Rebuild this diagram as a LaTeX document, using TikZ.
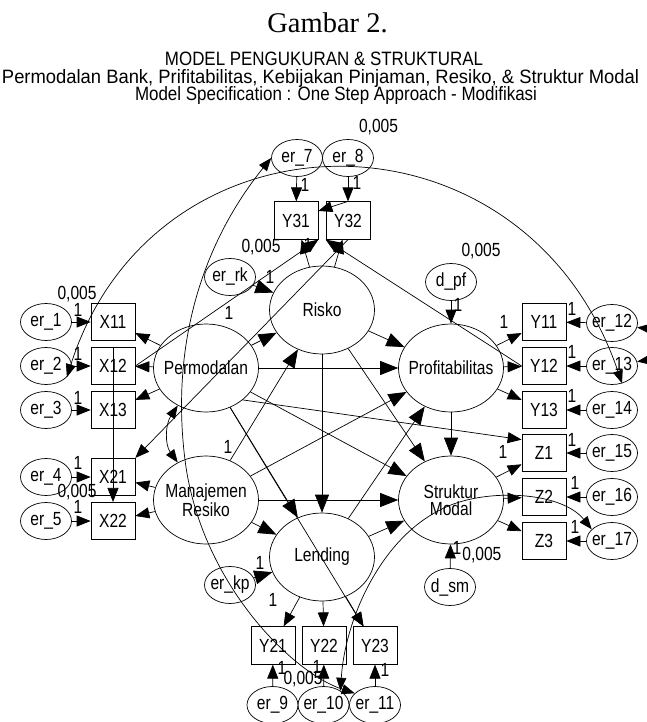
\documentclass[tikz,border=0pt]{standalone}
\usepackage{fontspec}
\setmainfont{Liberation Sans}
\newfontfamily\diagfont{Liberation Sans}[FakeStretch=0.82]
\newfontfamily\headfont{Liberation Sans}
\newfontfamily\serifhead{Liberation Serif}
\usetikzlibrary{shapes.geometric,arrows.meta,calc}

\newcommand\lblsize{\diagfont\fontsize{19}{21}\selectfont}
\newcommand\twolinesize{\diagfont\fontsize{19}{17.5}\selectfont}

\begin{document}
\begin{tikzpicture}[x=1pt,y=-1pt,
  every node/.style={font=\lblsize},
  obs/.style={draw,rectangle,minimum width=44pt,minimum height=37.5pt,inner sep=0pt},
  errell/.style={draw,ellipse,minimum width=51pt,minimum height=37pt,inner sep=0pt},
  latent/.style={draw,ellipse,minimum width=105pt,minimum height=88pt,inner sep=0pt},
  num/.style={inner sep=0pt},
  reg/.style={draw,line width=0.7pt,-{Triangle[length=14pt,width=11pt]}},
  bigreg/.style={draw,line width=0.7pt,-{Triangle[length=18pt,width=14pt]}},
  cov/.style={draw,line width=0.7pt,{Triangle[length=13pt,width=10pt]}-{Triangle[length=13pt,width=10pt]}},
  line width=0.7pt]
\useasboundingbox (0,0) rectangle (646,722);

% ---------- headings ----------
\node[font=\serifhead\fontsize{28.5}{30}\selectfont,anchor=base,inner sep=0pt] (title) at (327.5,32.5) {Gambar 2.};
\node[anchor=base,inner sep=0pt] (head1) at (324,66) {\resizebox{318pt}{13.5pt}{\headfont MODEL PENGUKURAN \& STRUKTURAL}};
\node[anchor=base,inner sep=0pt] (head2) at (320.5,84) {\resizebox{637pt}{14pt}{\headfont Permodalan Bank, Prifitabilitas, Kebijakan Pinjaman, Resiko, \& Struktur Modal}};
\node[anchor=base,inner sep=0pt] (head3) at (336,101) {\resizebox{402pt}{14pt}{\headfont Model Specification : One Step Approach - Modifikasi}};

% ---------- latent variables ----------
\node[latent] (R) at (322,310) {};
\node[latent] (P) at (206,368) {};
\node[latent] (Pf) at (451,368) {};
\node[latent] (M) at (206,500) {};
\node[latent] (S) at (451,500) {};
\node[latent] (L) at (322,557) {};
\node (Rt) at (R) {Risko};
\node (Pt) at (P) {Permodalan};
\node (Pft) at (Pf) {Profitabilitas};
\node[align=center,font=\twolinesize] (Mt) at (M) {Manajemen\\Resiko};
\node[align=center,font=\twolinesize] (St) at (S) {Struktur\\Modal};
\node (Lt) at (L) {Lending};

% ---------- indicators ----------
\node[obs] (X11) at (113,322) {X11};
\node[obs] (X12) at (113,366) {X12};
\node[obs] (X13) at (113,410) {X13};
\node[obs] (X21) at (113,477) {X21};
\node[obs] (X22) at (113,521) {X22};
\node[obs] (Y11) at (544,322) {Y11};
\node[obs] (Y12) at (544,366) {Y12};
\node[obs] (Y13) at (544,410) {Y13};
\node[obs] (Z1) at (544,453) {Z1};
\node[obs] (Z2) at (544,497) {Z2};
\node[obs] (Z3) at (544,541) {Z3};
\node[obs] (Y31) at (296,220.5) {Y31};
\node[obs] (Y32) at (348,220.5) {Y32};
\node[obs] (Y21) at (273,645.5) {Y21};
\node[obs] (Y22) at (324,645.5) {Y22};
\node[obs] (Y23) at (375,645.5) {Y23};

% ---------- errors and disturbances ----------
\foreach \n/\x/\y/\t in {e1/46/322/er\_1, e2/46/366/er\_2, e3/46/410/er\_3,
    e4/46/477/er\_4, e5/46/521/er\_5, e12/612/323/er\_12, e13/612/366/er\_13,
    e14/612/410/er\_14, e15/612/453/er\_15, e16/612/497/er\_16, e17/612/541/er\_17,
    e7/297/158/er\_7, e8/348/158/er\_8, e9/272.5/705/er\_9, e10/323.5/705/er\_10,
    e11/375/705/er\_11, erk/230/277/er\_rk, ekp/230/585/er\_kp,
    dpf/451/282/d\_pf, dsm/450/587/d\_sm}
{
  \node[errell] (\n) at (\x,\y) {};
  \node (\n t) at (\n) {\t};
}

% ---------- structural paths ----------
\draw[bigreg] (P) -- (R);
\draw[bigreg] (M) -- (R);
\draw[bigreg] (P) -- (Pf);
\draw[bigreg] (R) -- (Pf);
\draw[bigreg] (M) -- (Pf);
\draw[bigreg] (L) -- (Pf);
\draw[bigreg] (Pf) -- (S);
\draw[bigreg] (R) -- (S);
\draw[bigreg] (P) -- (S);
\draw[bigreg] (M) -- (S);
\draw[bigreg] (L) -- (S);
\draw[bigreg] (R) -- (L);
\draw[bigreg] (P) -- (L);
\draw[bigreg] (M) -- (L);
\draw[bigreg] (erk) -- (R);
\draw[bigreg] (ekp) -- (L);
\draw[reg] (dpf) -- (Pf);
\draw[reg] (dsm) -- (S);

% ---------- loadings ----------
\draw[reg] (P) -- (X11);
\draw[reg] (P) -- (X12);
\draw[reg] (P) -- (X13);
\draw[reg] (M) -- (X21);
\draw[reg] (M) -- (X22);
\draw[reg] (Pf) -- (Y11);
\draw[reg] (Pf) -- (Y12);
\draw[reg] (Pf) -- (Y13);
\draw[reg] (S) -- (Z1);
\draw[reg] (S) -- (Z2);
\draw[reg] (S) -- (Z3);
\draw[reg] (R) -- (Y31);
\draw[reg] (R) -- (Y32);
\draw[reg] (L) -- (Y21);
\draw[reg] (L) -- (Y22);
\draw[reg] (L) -- (Y23);

% ---------- measurement errors ----------
\foreach \e/\b in {e1/X11,e2/X12,e3/X13,e4/X21,e5/X22,e12/Y11,e13/Y12,e14/Y13,e15/Z1,e16/Z2,e17/Z3,e7/Y31,e8/Y32,e9/Y21,e10/Y22,e11/Y23}
  \draw[reg] (\e) -- (\b);

% ---------- modification paths ----------
\draw[reg] (P.-41) -- ($(Z1.north west)!0.15!(Z1.south west)$);
\draw[reg] (P) -- (Y23);
\draw[reg] (X12.east) -- (Y31.south east);
\draw[reg] (Y32.south) -- (X21.north east);
\draw[reg] (Y12.west) -- (Y32.south west);
\draw[reg] (Y32.north) -- ($(Y31.north east)!0.25!(Y31.south east)$);
\draw[reg] (X12.north) -- (X22.north);

% ---------- covariances ----------
\draw[cov] (e2.-28) .. controls (155,100) and (525,98) .. (e13.-60);
\draw[cov] (e7.west) .. controls (205,240) and (170,340) .. (185,460)
                     .. controls (200,580) and (290,672) .. (e11.150);
\draw[cov] (e17.150) .. controls (560,490) and (480,488) .. (440,510)
                     .. controls (380,540) and (345,620) .. (e10.40);
\draw[cov] (P.233) .. controls (165,425) and (165,445) .. (M.127);
\draw[cov] (e12.-10) .. controls (662,330) and (662,358) .. (e13.10);

% ---------- parameter labels ----------
\node[num,anchor=base] (v1) at (378.5,133) {0,005};
\node[num] (v2) at (261,247) {0,005};
\node[num] (v3) at (481,251) {0,005};
\node[num] (v4) at (77,294) {0,005};
\node[num] (v5) at (77,492) {0,005};
\node[num,anchor=west] (v6) at (462,555) {0,005};
\node[num] (v7) at (303,679) {0,005};

\foreach \x/\y in {78/310,78/354,78/398,78/463,78/507,
                   572/309,572/352,572/396,572/440,575/483,575/527,
                   504/322,503/452,305/185,357/183,308/245,270/277,
                   229/313,228/447,458/305,457/548,260/563,273/600,
                   282/668,317/667,385/670}
  \node[num] at (\x,\y) {1};
\end{tikzpicture}
\end{document}
